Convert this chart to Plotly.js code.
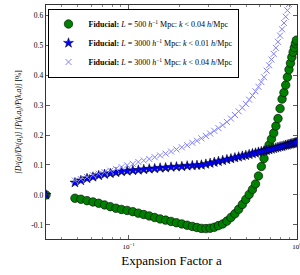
<!DOCTYPE html>
<html><head><meta charset="utf-8">
<script src="https://cdn.plot.ly/plotly-3.0.1.min.js"></script>
<style>html,body{margin:0;padding:0;background:#fff}#chart{width:300px;height:275px}</style>
</head><body><div id="chart"></div>
<script>
// expansion factor grid (shared by all series)
const aValues = [0.0323,0.04799,0.05205,0.05662,0.06141,0.06643,0.07196,0.07783,0.08409,0.09072,0.09799,
0.1059,0.1142,0.1230,0.1326,0.1428,0.1538,0.1658,0.1786,0.1923,0.2070,0.2227,0.2389,0.2546,0.2706,0.2875,
0.3048,0.3227,0.3416,0.3620,0.3834,0.4052,0.4278,0.4503,0.4735,0.4965,0.5199,0.5436,0.5669,0.5904,0.6140,
0.6370,0.6598,0.6825,0.7051,0.7275,0.7494,0.7711,0.7933,0.8151,0.8364,0.8568,0.8769,0.8962,0.9146,0.9320,
0.9486,0.9641,0.9786,0.9919];
// L = 500 Mpc/h, k < 0.04 h/Mpc
const green500 = [0.0,-0.0110,-0.0143,-0.0190,-0.0233,-0.0277,-0.0333,-0.0390,-0.0443,-0.0483,-0.0517,
-0.0557,-0.0607,-0.0653,-0.0700,-0.0753,-0.0800,-0.0840,-0.0883,-0.0927,-0.0967,-0.1010,-0.1050,-0.1087,-0.1117,-0.1123,
-0.1110,-0.1077,-0.1023,-0.0967,-0.0873,-0.0750,-0.0627,-0.0477,-0.0317,-0.0150,0.0017,0.0183,0.0367,0.0633,0.0950,
0.1217,0.1500,0.1667,0.1867,0.2067,0.2300,0.2550,0.2883,0.3200,0.3417,0.3667,0.3933,0.4183,0.4400,0.4600,
0.4767,0.4917,0.5050,0.5167];
// L = 3000 Mpc/h, k < 0.01 h/Mpc
const star3000k01 = [0.0,0.041,0.048,0.055,0.060,0.065,0.069,0.072,0.075,0.078,0.080,
0.082,0.083,0.085,0.087,0.088,0.090,0.091,0.093,0.094,0.095,0.097,0.098,0.099,0.100,0.103,
0.106,0.109,0.112,0.115,0.118,0.121,0.124,0.127,0.130,0.132,0.135,0.138,0.140,0.143,0.145,
0.147,0.149,0.151,0.153,0.155,0.157,0.159,0.161,0.162,0.164,0.166,0.167,0.169,0.170,0.171,
0.172,0.173,0.174,0.175];
// L = 3000 Mpc/h, k < 0.04 h/Mpc (first grid point omitted)
const cross3000k04 = [null,0.048,0.053,0.060,0.066,0.071,0.076,0.081,0.087,0.093,0.099,
0.104,0.110,0.115,0.120,0.126,0.132,0.138,0.145,0.152,0.159,0.166,0.174,0.181,0.189,0.197,
0.205,0.214,0.223,0.233,0.244,0.255,0.267,0.279,0.291,0.304,0.318,0.332,0.346,0.361,0.377,
0.393,0.415,0.433,0.452,0.471,0.491,0.511,0.532,0.553,0.574,0.595,0.616,0.637,0.657,0.677,
0.697,0.716,0.735,0.752];
const names = [
 '<b>Fiducial:</b> <i>L</i> = 500 <i>h</i><sup>−1</sup> Mpc: <i>k</i> &lt; 0.04 <i>h</i>/Mpc',
 '<b>Fiducial:</b> <i>L</i> = 3000 <i>h</i><sup>−1</sup> Mpc: <i>k</i> &lt; 0.01 <i>h</i>/Mpc',
 '<b>Fiducial:</b> <i>L</i> = 3000 <i>h</i><sup>−1</sup> Mpc: <i>k</i> &lt; 0.04 <i>h</i>/Mpc'];
const yTickVals = [-0.1,0.0,0.1,0.2,0.3,0.4,0.5,0.6];
const yTickText = ['-0.1','0.0','0.1','0.2','0.3','0.4','0.5','0.6'];
const xTickVals = [0.1,1];
const xTickText = ['10<sup>−1</sup>','10<sup>0</sup>'];
const xMinorVals = [0.04,0.05,0.06,0.07,0.08,0.09,0.2,0.3,0.4,0.5,0.6,0.7,0.8,0.9];

const font = 'Liberation Serif, DejaVu Serif, serif';
const traces = [
 {x:aValues,y:green500,mode:'markers',type:'scatter',name:names[0],cliponaxis:true,
  marker:{symbol:'circle',size:8.5,color:'#008000',line:{color:'#000',width:0.6}}},
 {x:aValues,y:star3000k01,mode:'markers',type:'scatter',name:names[1],cliponaxis:true,
  marker:{symbol:'star',size:7.5,color:'#0000ff',line:{color:'#000',width:0.5}}},
 {x:aValues,y:cross3000k04,mode:'markers',type:'scatter',name:names[2],cliponaxis:true,
  marker:{symbol:'x-thin-open',size:6,color:'#8080ff',line:{color:'#8080ff',width:1}}}
];
const layout = {
 width:300,height:275,margin:{l:46,r:3,t:5,b:36},
 paper_bgcolor:'#fff',plot_bgcolor:'#fff',
 font:{family:font,color:'#000',size:8},
 showlegend:true,
 legend:{x:0.006,y:0.985,xanchor:'left',yanchor:'top',bgcolor:'#fff',bordercolor:'#000',borderwidth:1,
   font:{family:font,size:8,color:'#000'},itemwidth:30,tracegroupgap:0},
 xaxis:{type:'log',range:[Math.log10(0.0323),0],tickvals:xTickVals,ticktext:xTickText,
   ticks:'inside',ticklen:4,tickwidth:0.8,tickcolor:'#333',showgrid:false,zeroline:false,
   showline:true,linecolor:'#333',linewidth:1.3,mirror:'allticks',ticklabeloverflow:'allow',
   tickfont:{size:7,family:font},
   minor:{tickvals:xMinorVals,ticks:'inside',ticklen:2,tickwidth:0.6,tickcolor:'#333',showgrid:false},
   title:{text:'Expansion Factor a',font:{size:13,family:font},standoff:6}},
 yaxis:{range:[-0.147,0.634],tickvals:yTickVals,ticktext:yTickText,
   ticks:'inside',ticklen:4,tickwidth:0.8,tickcolor:'#333',showgrid:false,zeroline:false,
   showline:true,linecolor:'#333',linewidth:1.3,mirror:'allticks',
   tickfont:{size:7.5,family:font},
   title:{text:'<i>[D²(a)/D²(a<sub>i</sub>)] [P(k,a<sub>i</sub>)/P(k,a)]</i> [%]',font:{size:7.5,family:font},standoff:8}}
};
Plotly.newPlot('chart',traces,layout,{staticPlot:true,displayModeBar:false});
</script></body></html>
